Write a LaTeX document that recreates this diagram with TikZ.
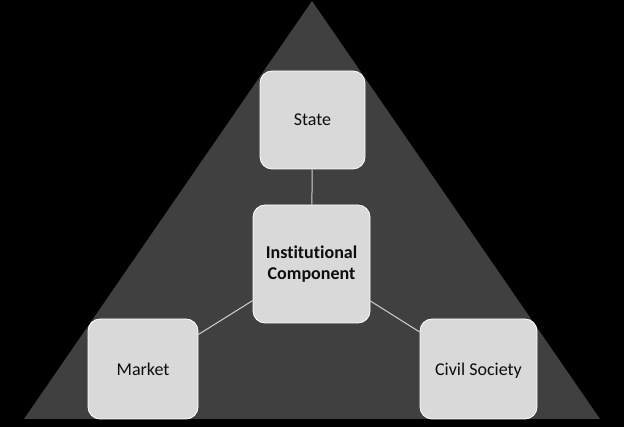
\documentclass[tikz,border=0pt]{standalone}
\usepackage{fontspec}
\setmainfont[Ligatures=NoCommon]{Carlito}
\definecolor{trigray}{HTML}{404040}
\definecolor{boxgray}{HTML}{D9D9D9}
\definecolor{linegray}{HTML}{D0D0D0}
\definecolor{txt}{HTML}{0D0D0D}
\begin{document}
\begin{tikzpicture}[x=1pt,y=-1pt,
  box/.style={draw=white, line width=0.8pt, fill=boxgray, rounded corners=12pt,
    inner sep=0pt, align=center, text=txt, font=\fontsize{18}{21}\selectfont},
  link/.style={draw=linegray, line width=1pt}]
\fill[black] (0,0) rectangle (624,427);
\useasboundingbox (0,0) rectangle (624,427);
\fill[trigray] (312,1) -- (600,419) -- (24,419) -- cycle;
\node[box, minimum width=105pt, minimum height=98pt] (state) at (312.5,120) {State};
\node[box, minimum width=117pt, minimum height=118pt] (inst) at (311.5,264) {\bfseries Institutional\\\bfseries Component};
\node[box, minimum width=110pt, minimum height=100pt] (market) at (143,369) {Market};
\node[box, minimum width=117pt, minimum height=100pt, text depth=0pt] (civil) at (478.5,369) {Civil Society};
\draw[link] (state) -- (inst);
\draw[link] (market) -- (inst);
\draw[link] (civil) -- (inst);
\end{tikzpicture}
\end{document}
